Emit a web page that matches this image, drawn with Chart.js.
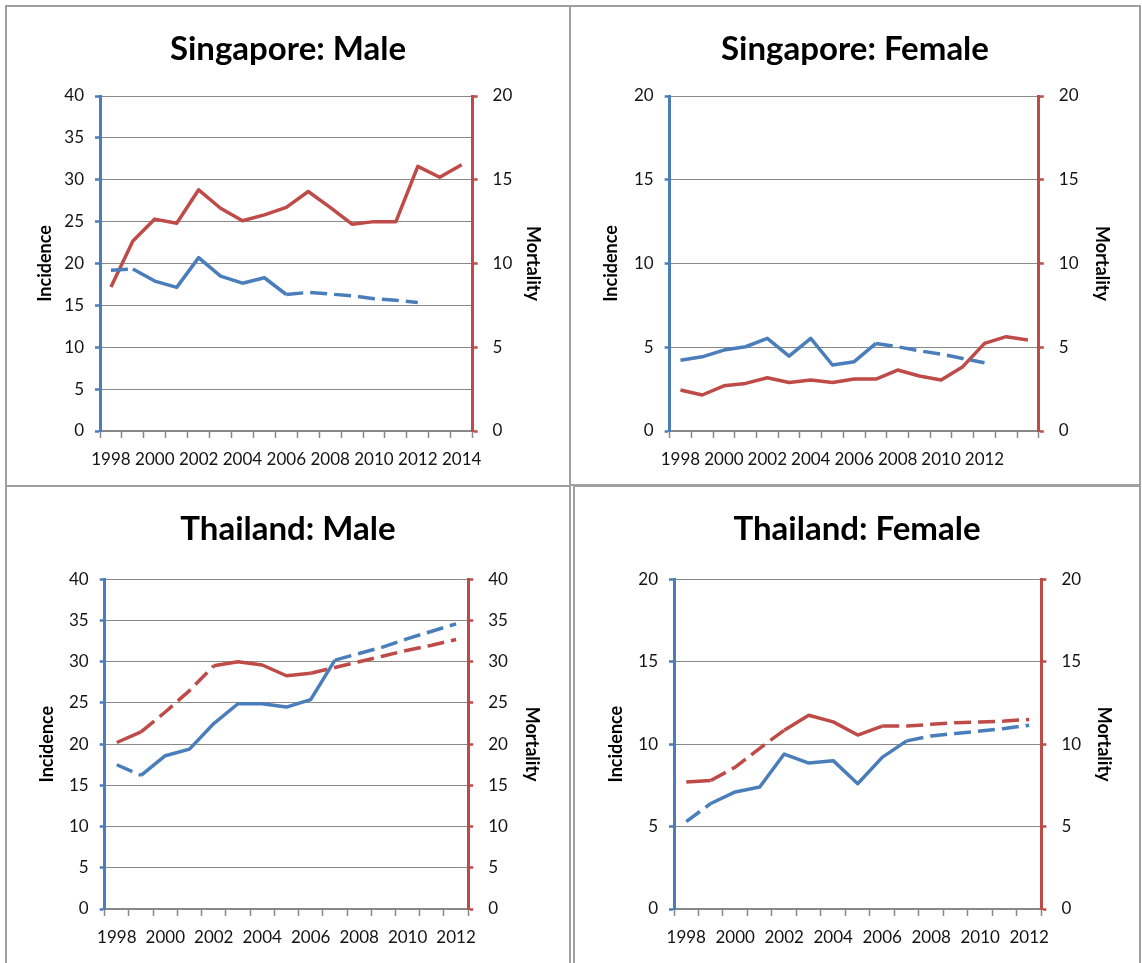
<!DOCTYPE html>
<html>
<head>
<meta charset="utf-8">
<title>Incidence and mortality: Singapore and Thailand</title>
<script src="https://cdn.jsdelivr.net/npm/chart.js@4.4.0/dist/chart.umd.min.js"></script>
<style>
  html, body { margin: 0; padding: 0; background: #fff; }
  body { width: 1142px; height: 963px; position: relative; overflow: hidden; }
  .frame { position: absolute; box-sizing: border-box; border: 2px solid #a0a0a0; }
  canvas { position: absolute; }
</style>
</head>
<body>
<div class="frame" style="left:5px;top:5px;width:566px;height:482px"></div>
<div class="frame" style="left:569px;top:5px;width:572px;height:481px"></div>
<div class="frame" style="left:5px;top:485px;width:566px;height:490px"></div>
<div class="frame" style="left:573px;top:485px;width:568px;height:490px"></div>

<canvas id="sgMale" width="562" height="478" style="left:7px;top:7px"></canvas>
<canvas id="sgFemale" width="568" height="477" style="left:571px;top:7px"></canvas>
<canvas id="thMale" width="562" height="476" style="left:7px;top:487px"></canvas>
<canvas id="thFemale" width="564" height="476" style="left:575px;top:487px"></canvas>

<script>
// ---- data ----
const sgYears = ['1998', '1999', '2000', '2001', '2002', '2003', '2004', '2005', '2006',
  '2007', '2008', '2009', '2010', '2011', '2012', '2013', '2014'];
const thYears = ['1998', '1999', '2000', '2001', '2002', '2003', '2004', '2005', '2006',
  '2007', '2008', '2009', '2010', '2011', '2012'];

const sgMaleIncidence = [19.2, 19.35, 17.9, 17.15, 20.7, 18.5, 17.65, 18.3, 16.3,
  16.55, 16.35, 16.15, 15.8, 15.6, 15.35, null, null];
const sgMaleMortality = [8.6, 11.35, 12.65, 12.4, 14.4, 13.3, 12.55, 12.9, 13.35,
  14.3, 13.35, 12.35, 12.5, 12.5, 15.8, 15.15, 15.9];

const sgFemaleIncidence = [4.23, 4.43, 4.83, 5.03, 5.53, 4.47, 5.53, 3.94, 4.14,
  5.23, 5.03, 4.79, 4.59, 4.33, 4.08, null, null];
const sgFemaleMortality = [2.45, 2.15, 2.7, 2.84, 3.18, 2.9, 3.04, 2.9, 3.1,
  3.1, 3.64, 3.28, 3.04, 3.84, 5.23, 5.63, 5.43];

const thMaleIncidence = [17.5, 16.2, 18.6, 19.4, 22.5, 24.9, 24.9, 24.5, 25.4,
  30.2, 31.0, 31.8, 32.8, 33.7, 34.6];
const thMaleMortality = [20.2, 21.5, 23.9, 26.5, 29.5, 30.0, 29.6, 28.3, 28.6,
  29.3, 30.0, 30.7, 31.4, 32.0, 32.7];

const thFemaleIncidence = [5.3, 6.4, 7.1, 7.4, 9.4, 8.85, 9.0, 7.6, 9.2,
  10.2, 10.5, 10.65, 10.8, 10.95, 11.15];
const thFemaleMortality = [7.7, 7.8, 8.6, 9.75, 10.85, 11.75, 11.35, 10.55, 11.1,
  11.1, 11.2, 11.3, 11.35, 11.4, 11.5];

// segments (by start index) drawn dashed
const sgMaleIncDashed = [0, 8, 9, 10, 11, 12, 13];
const sgFemaleIncDashed = [9, 10, 11, 12, 13];
const thMaleIncDashed = [0, 9, 10, 11, 12, 13];
const thMaleMortDashed = [1, 2, 3, 8, 9, 10, 11, 12, 13];
const thFemaleIncDashed = [0, 9, 10, 11, 12, 13];
const thFemaleMortDashed = [1, 2, 3, 8, 9, 10, 11, 12, 13];

const BLUE = '#4a7ebb';
const RED = '#be4b48';
const GRID = '#888888';
const TEXT = '#141414';
const DASH = [17, 7];

Chart.defaults.font.family = 'Lato';
Chart.defaults.color = TEXT;

function dashFor(list) {
  return ctx => (list.includes(ctx.p0DataIndex) ? DASH : undefined);
}

// box = canvas rect on the page [x, y, w, h]; area = wanted plot area [left, top, right, bottom]
function makePanel(id, p) {
  const [bx, by, bw, bh] = p.box;
  const [al, at, ar, ab] = p.area;
  const titleSize = 33, axisTitleSize = 18;
  const titleLH = titleSize * 1.2, axisLH = axisTitleSize * 1.2;
  const titlePadTop = (p.titleY - by) - titleLH / 2;

  new Chart(document.getElementById(id), {
    type: 'line',
    data: {
      labels: p.years,
      datasets: [
        {
          label: 'Incidence',
          data: p.incidence,
          yAxisID: 'yInc',
          borderColor: BLUE,
          segment: { borderDash: dashFor(p.incDashed || []) }
        },
        {
          label: 'Mortality',
          data: p.mortality,
          yAxisID: 'yMort',
          borderColor: RED,
          segment: { borderDash: dashFor(p.mortDashed || []) }
        }
      ]
    },
    options: {
      responsive: false,
      animation: false,
      layout: { padding: 0 },
      elements: {
        line: { borderWidth: 3.5, tension: 0, borderCapStyle: 'butt', borderJoinStyle: 'round' },
        point: { radius: 0 }
      },
      plugins: {
        legend: { display: false },
        tooltip: { enabled: false },
        title: {
          display: true,
          text: p.title,
          color: '#000',
          font: { size: titleSize, weight: 'bold' },
          padding: { top: titlePadTop, bottom: (at - by) - titleLH - titlePadTop }
        }
      },
      scales: {
        x: {
          offset: true,
          afterFit: s => { s.height = by + bh - ab; },
          grid: {
            offset: true,
            drawOnChartArea: false,
            drawTicks: true,
            tickLength: 7,
            tickWidth: 1.5,
            color: GRID
          },
          border: { display: true, color: GRID, width: 1.5 },
          ticks: {
            autoSkip: false,
            maxRotation: 0,
            padding: 11,
            color: TEXT,
            font: { size: 17 },
            callback: function (value, index) {
              const year = this.getLabelForValue(value);
              if (index % 2 !== 0) return '';
              if (p.lastLabel && +year > p.lastLabel) return '';
              return year;
            }
          }
        },
        yInc: {
          position: 'left',
          min: 0,
          max: p.incMax,
          afterFit: s => { s.width = al - bx; },
          grid: { color: GRID, lineWidth: 1, tickColor: BLUE, tickLength: 5, tickWidth: 2.5 },
          border: { display: true, color: BLUE, width: 3 },
          ticks: { stepSize: 5, padding: 11, color: TEXT, font: { size: 17 } },
          title: {
            display: true,
            text: 'Incidence',
            color: '#000',
            font: { size: axisTitleSize, weight: 'bold' },
            padding: { top: p.incX - bx - axisLH / 2, bottom: 0 }
          }
        },
        yMort: {
          position: 'right',
          min: 0,
          max: p.mortMax,
          afterFit: s => { s.width = bx + bw - ar; },
          grid: { drawOnChartArea: false, tickColor: RED, tickLength: 5, tickWidth: 2.5 },
          border: { display: true, color: RED, width: 3 },
          ticks: { stepSize: 5, padding: 15, color: TEXT, font: { size: 17 } },
          title: {
            display: true,
            text: 'Mortality',
            color: '#000',
            font: { size: axisTitleSize, weight: 'bold' },
            padding: { top: bx + bw - axisLH / 2 - p.mortX, bottom: 0 }
          }
        }
      }
    }
  });
}

function drawAll() {
  makePanel('sgMale', {
    title: 'Singapore: Male',
    years: sgYears,
    incidence: sgMaleIncidence,
    mortality: sgMaleMortality,
    incDashed: sgMaleIncDashed,
    incMax: 40, mortMax: 20,
    box: [7, 7, 562, 478], area: [100, 96, 472.6, 431],
    titleY: 49, incX: 45, mortX: 533
  });
  makePanel('sgFemale', {
    title: 'Singapore: Female',
    years: sgYears,
    incidence: sgFemaleIncidence,
    mortality: sgFemaleMortality,
    incDashed: sgFemaleIncDashed,
    incMax: 20, mortMax: 20,
    lastLabel: 2012,
    box: [571, 7, 568, 477], area: [669.6, 96, 1038.8, 431],
    titleY: 49, incX: 611, mortX: 1102
  });
  makePanel('thMale', {
    title: 'Thailand: Male',
    years: thYears,
    incidence: thMaleIncidence,
    mortality: thMaleMortality,
    incDashed: thMaleIncDashed,
    mortDashed: thMaleMortDashed,
    incMax: 40, mortMax: 40,
    box: [7, 487, 562, 476], area: [104.7, 579.3, 468.2, 909],
    titleY: 529, incX: 47, mortX: 531.6
  });
  makePanel('thFemale', {
    title: 'Thailand: Female',
    years: thYears,
    incidence: thFemaleIncidence,
    mortality: thFemaleMortality,
    incDashed: thFemaleIncDashed,
    mortDashed: thFemaleMortDashed,
    incMax: 20, mortMax: 20,
    box: [575, 487, 564, 476], area: [674, 579.3, 1041.4, 909],
    titleY: 529, incX: 616, mortX: 1104
  });
}

Promise.all([
  document.fonts.load('bold 33px Lato'),
  document.fonts.load('17px Lato')
]).then(drawAll, drawAll);
</script>
</body>
</html>
